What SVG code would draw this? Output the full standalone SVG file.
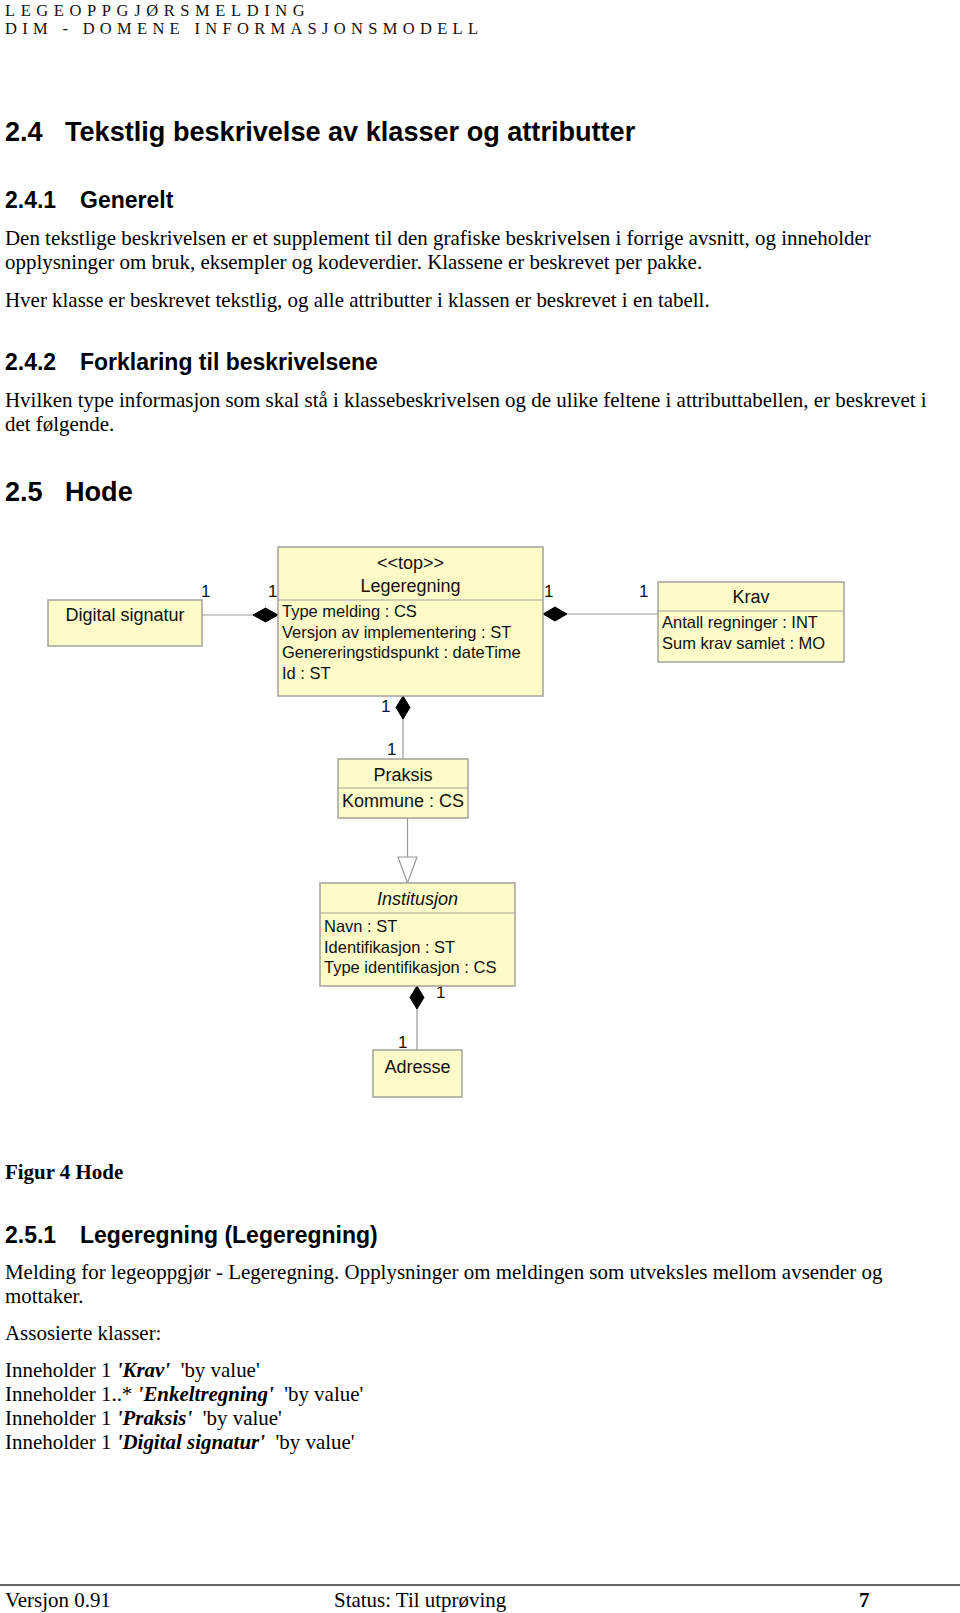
<svg xmlns="http://www.w3.org/2000/svg" width="960" height="1613" viewBox="0 0 960 1613">
<style>
.hdr{font-family:"Liberation Serif","Times New Roman",serif;font-size:16.5px;letter-spacing:5.6px;fill:#111}
.h1{font-family:"Liberation Sans",Arial,sans-serif;font-weight:bold;font-size:27.1px;fill:#000}
.h2{font-family:"Liberation Sans",Arial,sans-serif;font-weight:bold;font-size:23px;fill:#000}
.body{font-family:"Liberation Serif","Times New Roman",serif;font-size:20.95px;fill:#000}
.bi{font-weight:bold;font-style:italic}
.box{fill:#FDFBC8;stroke:#a3a39a;stroke-width:1.5}
.div{stroke:#a3a39a;stroke-width:1.2}
.lbl{font-family:"Liberation Sans",Arial,sans-serif;font-size:16.5px;fill:#111}
.name{font-family:"Liberation Sans",Arial,sans-serif;font-size:18px;fill:#111;text-anchor:middle}
.mult{font-family:"Liberation Sans",Arial,sans-serif;font-size:17px;fill:#111}
.conn{stroke:#9a9a9a;stroke-width:1.2;fill:none}
.dia{fill:#000;stroke:#000;stroke-width:1}
.gen{fill:#fff;stroke:#9a9a9a;stroke-width:1.2}
</style>

<text class="hdr" x="5" y="15.5">LEGEOPPGJØRSMELDING</text>
<text class="hdr" x="5" y="34" style="letter-spacing:5.3px">DIM  -  DOMENE  INFORMASJONSMODELL</text>

<text class="h1" x="5" y="141">2.4</text>
<text class="h1" x="65" y="141">Tekstlig beskrivelse av klasser og attributter</text>

<text class="h2" x="5" y="208">2.4.1</text>
<text class="h2" x="80" y="208">Generelt</text>
<text class="body" x="5" y="245">Den tekstlige beskrivelsen er et supplement til den grafiske beskrivelsen i forrige avsnitt, og inneholder</text>
<text class="body" x="5" y="269">opplysninger om bruk, eksempler og kodeverdier. Klassene er beskrevet per pakke.</text>
<text class="body" x="5" y="307">Hver klasse er beskrevet tekstlig, og alle attributter i klassen er beskrevet i en tabell.</text>

<text class="h2" x="5" y="370">2.4.2</text>
<text class="h2" x="80" y="370">Forklaring til beskrivelsene</text>
<text class="body" x="5" y="407">Hvilken type informasjon som skal stå i klassebeskrivelsen og de ulike feltene i attributtabellen, er beskrevet i</text>
<text class="body" x="5" y="431">det følgende.</text>

<text class="h1" x="5" y="501">2.5</text>
<text class="h1" x="65" y="501">Hode</text>

<g id="connectors">
  <line class="conn" x1="202" y1="615" x2="253" y2="615"/>
  <polygon class="dia" points="253,615 265.5,608 278,615 265.5,622"/>
  <polygon class="dia" points="543,614 555,607 567,614 555,621"/>
  <line class="conn" x1="567" y1="614" x2="658" y2="614"/>
  <polygon class="dia" points="403,696 410,707.5 403,719 396,707.5"/>
  <line class="conn" x1="403" y1="719" x2="403" y2="759"/>
  <line class="conn" x1="407.5" y1="818" x2="407.5" y2="857"/>
  <polygon class="gen" points="398,857 417,857 407.5,883"/>
  <polygon class="dia" points="417,986 424,997.5 417,1009 410,997.5"/>
  <line class="conn" x1="417" y1="1009" x2="417" y2="1050"/>
  <text class="mult" x="201" y="597">1</text>
  <text class="mult" x="268" y="597">1</text>
  <text class="mult" x="544" y="597">1</text>
  <text class="mult" x="639" y="597">1</text>
  <text class="mult" x="381" y="712">1</text>
  <text class="mult" x="387" y="755">1</text>
  <text class="mult" x="436" y="998">1</text>
  <text class="mult" x="398" y="1048">1</text>
</g>

<g id="node-digital-signatur">
  <rect class="box" x="48" y="600" width="154" height="46"/>
  <text class="name" x="125" y="621">Digital signatur</text>
</g>

<g id="node-legeregning">
  <rect class="box" x="278" y="547" width="265" height="149"/>
  <line class="div" x1="278" y1="600" x2="543" y2="600"/>
  <text class="name" x="410.5" y="569">&lt;&lt;top&gt;&gt;</text>
  <text class="name" x="410.5" y="592">Legeregning</text>
  <text class="lbl" x="282" y="617">Type melding : CS</text>
  <text class="lbl" x="282" y="637.6">Versjon av implementering : ST</text>
  <text class="lbl" x="282" y="658.2">Genereringstidspunkt : dateTime</text>
  <text class="lbl" x="282" y="678.8">Id : ST</text>
</g>

<g id="node-krav">
  <rect class="box" x="658" y="582" width="186" height="80"/>
  <line class="div" x1="658" y1="611" x2="844" y2="611"/>
  <text class="name" x="751" y="603">Krav</text>
  <text class="lbl" x="662" y="628">Antall regninger : INT</text>
  <text class="lbl" x="662" y="648.6">Sum krav samlet : MO</text>
</g>

<g id="node-praksis">
  <rect class="box" x="338" y="759" width="130" height="59"/>
  <line class="div" x1="338" y1="788" x2="468" y2="788"/>
  <text class="name" x="403" y="781">Praksis</text>
  <text class="name" x="403" y="807">Kommune : CS</text>
</g>

<g id="node-institusjon">
  <rect class="box" x="320" y="883" width="195" height="103"/>
  <line class="div" x1="320" y1="913" x2="515" y2="913"/>
  <text class="name" x="417.5" y="905" font-style="italic">Institusjon</text>
  <text class="lbl" x="324" y="932">Navn : ST</text>
  <text class="lbl" x="324" y="952.6">Identifikasjon : ST</text>
  <text class="lbl" x="324" y="973.2">Type identifikasjon : CS</text>
</g>

<g id="node-adresse">
  <rect class="box" x="373" y="1050" width="89" height="47"/>
  <text class="name" x="417.5" y="1073">Adresse</text>
</g>

<text class="body" x="5" y="1179" font-weight="bold">Figur 4 Hode</text>

<text class="h2" x="5" y="1243">2.5.1</text>
<text class="h2" x="80" y="1243">Legeregning (Legeregning)</text>
<text class="body" x="5" y="1279">Melding for legeoppgjør - Legeregning. Opplysninger om meldingen som utveksles mellom avsender og</text>
<text class="body" x="5" y="1303">mottaker.</text>
<text class="body" x="5" y="1340">Assosierte klasser:</text>
<text class="body" x="5" y="1377" xml:space="preserve">Inneholder 1 <tspan class="bi">'Krav'</tspan>  'by value'</text>
<text class="body" x="5" y="1401" xml:space="preserve">Inneholder 1..* <tspan class="bi">'Enkeltregning'</tspan>  'by value'</text>
<text class="body" x="5" y="1425" xml:space="preserve">Inneholder 1 <tspan class="bi">'Praksis'</tspan>  'by value'</text>
<text class="body" x="5" y="1449" xml:space="preserve">Inneholder 1 <tspan class="bi">'Digital signatur'</tspan>  'by value'</text>

<line x1="0" y1="1585" x2="960" y2="1585" stroke="#333" stroke-width="1.5"/>
<text class="body" x="5" y="1607">Versjon 0.91</text>
<text class="body" x="334" y="1607">Status: Til utprøving</text>
<text class="body" x="859" y="1607" font-weight="bold">7</text>
</svg>
